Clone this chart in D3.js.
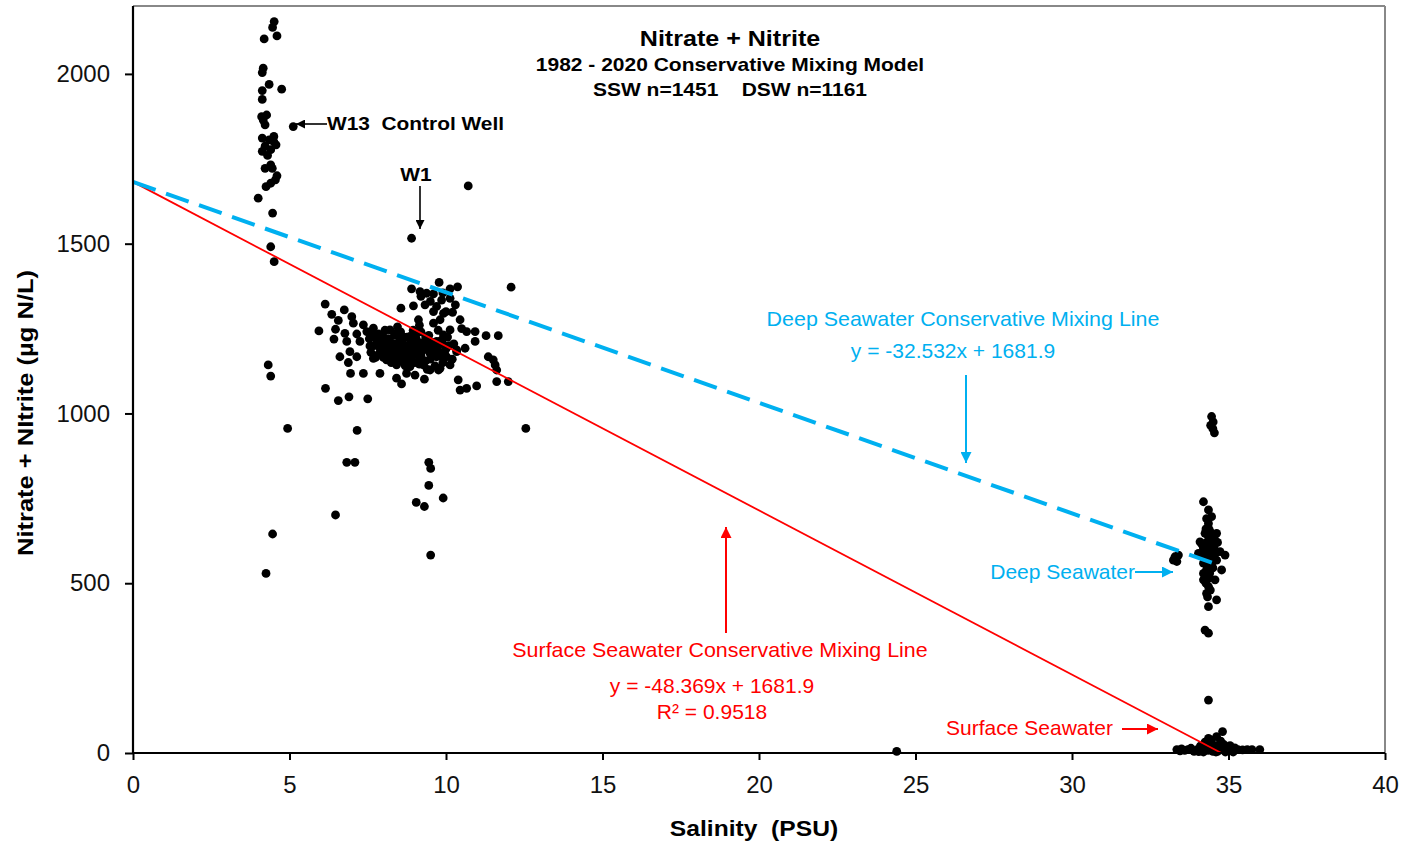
<!DOCTYPE html>
<html><head><meta charset="utf-8">
<script src="https://cdn.jsdelivr.net/npm/d3@7/dist/d3.min.js"></script>
<style>
body{margin:0;background:#fff;}
text{font-family:"Liberation Sans",Arial,sans-serif;}
</style></head>
<body><svg id="c" width="1416" height="846"></svg>
<script>
// ---------- DATA ----------
const xTicks = [0,5,10,15,20,25,30,35,40];
const yTicks = [0,500,1000,1500,2000];

// W13 control well samples [salinity, nitrate+nitrite]
const w13 = [[4.51,2154],[4.46,2137],[4.19,2103],[4.60,2112],[4.16,2017],[4.13,2004],[4.35,1969],[4.75,1955],
 [4.13,1951],[4.13,1925],[4.11,1874],[4.16,1864],[4.22,1850],[4.27,1879],[5.12,1845],[4.13,1811],[4.35,1806],
 [4.50,1816],[4.57,1791],[4.22,1787],[4.40,1777],[4.13,1772],[4.40,1732],[4.22,1722],[4.45,1722],[4.55,1688],
 [4.40,1678],[4.25,1668],[4.00,1634],[4.46,1590],[4.40,1491],[4.51,1447],[4.50,1800],[4.30,1760],[4.60,1700],
 [4.32,1143],[4.40,1110],[4.25,529],[4.46,645]];

// Other wells (W1 and neighbours)
const wells = [[8.90,1516],[10.71,1670],[4.94,956],[6.15,1074],[6.56,1038],[6.90,1049],[7.50,1043],[7.16,950],
 [6.83,856],[7.09,856],[6.47,701],[9.45,856],[9.51,838],[9.45,788],[9.05,738],[9.31,726],[9.91,751],[9.51,583],
 [12.55,956],[12.08,1372],[9.78,1386],
 [8.90,1367],[9.17,1359],[9.38,1354],[9.60,1352],[10.13,1367],[10.37,1373],[10.13,1339],[9.86,1334],[9.70,1315],
 [9.33,1320],[8.96,1317],[8.56,1310],[9.92,1295],[10.21,1298],[10.45,1276],[9.60,1266],[9.81,1276],[9.12,1276],
 [10.13,1246],[9.92,1231],[10.66,1241],[10.93,1241],[11.28,1229],[11.67,1229],[10.93,1212],[10.61,1192],
 [10.34,1187],[9.70,1212],[9.49,1192],
 [6.14,1322],[6.75,1305],[6.35,1292],[6.99,1285],[6.56,1274],[7.04,1266],[7.36,1261],[7.68,1251],[6.47,1248],
 [5.94,1243],[6.77,1236],[7.15,1234],[7.47,1241],[7.84,1234],[6.42,1219],[6.83,1212],[7.25,1212],[7.57,1199],
 [8.21,1246],[8.42,1236],[8.53,1217],[8.85,1227],[9.06,1236],[8.00,1207],[7.94,1187],[8.21,1177],[8.42,1167],
 [8.74,1182],[8.96,1197],[9.22,1207],[9.49,1177],[9.70,1167],[10.02,1167],[10.34,1182],[6.61,1167],[6.93,1182],
 [7.15,1167],[6.88,1150],[7.68,1162],[8.10,1158],[8.42,1143],[8.85,1138],[9.28,1143],[9.49,1128],[9.81,1133],
 [10.13,1143],[6.95,1118],[7.36,1118],[7.89,1118],[8.42,1104],[8.58,1087],[8.74,1118],[9.01,1113],[9.31,1101],
 [9.76,1128],[10.39,1099],[10.45,1069],[10.66,1074],[10.98,1081],[11.62,1094],[11.99,1094],[11.35,1167],
 [11.51,1158],[11.57,1143],[11.62,1128],
 [7.70,1200],[7.80,1215],[7.90,1190],[8.00,1225],[8.10,1200],[8.15,1185],[8.20,1215],[8.30,1195],[8.30,1170],
 [8.35,1230],[8.40,1205],[8.50,1190],[8.50,1160],[8.55,1240],[8.60,1210],[8.65,1175],[8.70,1200],[8.75,1225],
 [8.80,1185],[8.80,1160],[8.90,1210],[8.95,1245],[9.00,1175],[9.00,1150],[9.05,1220],[9.10,1195],[9.15,1165],
 [9.20,1240],[9.25,1185],[9.30,1210],[9.35,1155],[9.40,1200],[9.45,1230],[9.50,1160],[9.55,1210],[9.60,1185],
 [9.65,1140],[9.70,1195],[9.80,1170],[9.85,1215],[9.90,1150],[10.00,1190],[10.05,1225],[10.20,1160],[10.25,1205],
 [8.05,1245],[7.60,1180],[7.75,1165],[8.45,1255],[9.15,1260],[8.25,1150],[8.70,1140],[9.40,1130],
 [9.20,1345],[9.50,1330],[9.90,1355],[10.30,1320],[10.50,1250],[10.00,1300],[9.60,1300],
 [7.85,1175],[7.95,1205],[8.05,1180],[8.15,1220],[8.25,1190],[8.35,1160],[8.45,1185],[8.55,1200],[8.60,1170],
 [8.65,1225],[8.75,1190],[8.85,1205],[8.90,1170],[9.05,1185],[9.10,1210],[9.20,1170],[9.30,1190],[9.35,1225],
 [9.45,1195],[9.55,1175],[9.65,1200],[9.75,1185],[9.90,1205],[8.20,1195],[8.65,1150],[9.15,1145],[8.00,1165],
 [7.55,1220],[7.65,1230],[9.75,1245],[9.95,1180],[10.10,1200]];

// Deep seawater samples
const deep = [[34.46,991],[34.51,975],[34.55,943],[34.43,965],[34.50,955],
 [34.20,740],[34.36,716],[34.46,696],[34.36,676],[34.36,662],[34.62,647],[34.25,647],[34.09,622],[34.41,637],
 [34.57,617],[34.20,603],[34.46,598],[34.73,593],[34.89,583],[34.04,588],[34.30,578],[34.62,568],[34.20,559],
 [34.46,549],[34.78,539],[34.20,529],[34.36,514],[34.20,510],[34.57,510],[34.36,490],[34.30,470],[34.62,451],
 [34.36,431],[34.25,362],[34.36,353],[33.29,578],[33.24,568],[33.40,583],[33.35,564],
 [34.30,620],[34.40,600],[34.50,580],[34.35,570],[34.45,560],[34.30,540],[34.40,530],[34.50,545],[34.25,590],
 [34.55,630],[34.40,655],[34.30,690],[34.45,625],[34.35,605],[34.50,565],[34.60,590],[34.28,500],[34.42,480],
 [34.33,460],[34.38,520],[34.48,610],[34.52,640],[34.40,575],[34.30,555],[34.45,590],
 [34.15,615],[34.22,575],[34.55,600],[34.65,620],[34.35,640],[34.28,660],[34.42,545],[34.32,595],[34.52,585]];

// Surface seawater samples
const surface = [[24.4,5],[34.36,156],[34.81,63],[34.36,43],[34.62,48],
 [33.35,10],[33.50,12],[33.60,8],[33.70,10],[33.80,14],[34.00,10],[34.10,20],[34.20,15],[34.30,25],[34.35,8],
 [34.40,30],[34.50,18],[34.55,12],[34.60,22],[34.65,5],[34.70,15],[34.80,10],[34.85,25],[34.90,8],[34.95,18],
 [35.00,12],[35.10,6],[35.20,15],[35.30,10],[35.45,9],[35.60,10],[35.75,10],[36.00,10],[34.45,38],[34.25,32],
 [34.75,35],[34.50,5],[34.20,3],[34.90,3],[35.05,22],[33.45,6],[33.90,5],[34.05,4],[34.15,8],[34.60,3],[35.15,3]];

// Mixing-line models
const ssw = {slope:-48.369, intercept:1681.9};
const dsw = {slope:-32.532, intercept:1681.9};
const dswEndX = 34.8;

// ---------- CHART ----------
const W=1416,H=846, m={l:133,r:31,t:6,b:93};
const svg = d3.select("#c");
const x = d3.scaleLinear().domain([0,40]).range([m.l,W-m.r]);
const y = d3.scaleLinear().domain([0,2200]).range([H-m.b,m.t]);
const blue="#00B0F0", red="#FF0000";

// frame (top/right grey)
svg.append("line").attr("x1",x(0)).attr("x2",x(40)).attr("y1",y(2200)).attr("y2",y(2200)).attr("stroke","#888").attr("stroke-width",2);
svg.append("line").attr("x1",x(40)).attr("x2",x(40)).attr("y1",y(2200)).attr("y2",y(0)).attr("stroke","#888").attr("stroke-width",2);

// points
const pts = [].concat(w13,wells,deep,surface);
svg.append("g").selectAll("circle").data(pts).join("circle")
  .attr("cx",d=>x(d[0])).attr("cy",d=>y(d[1])).attr("r",4.4).attr("fill","#000");

// lines
const sswEndX = -ssw.intercept/ssw.slope;
svg.append("line").attr("x1",x(0)).attr("y1",y(ssw.intercept)).attr("x2",x(sswEndX)).attr("y2",y(0))
  .attr("stroke",red).attr("stroke-width",1.8);
svg.append("line").attr("x1",x(0)).attr("y1",y(dsw.intercept)).attr("x2",x(dswEndX)).attr("y2",y(dsw.slope*dswEndX+dsw.intercept))
  .attr("stroke",blue).attr("stroke-width",4).attr("stroke-dasharray","24,11");

// axes
const xa = svg.append("g").attr("transform",`translate(0,${y(0)})`)
  .call(d3.axisBottom(x).tickValues(xTicks).tickFormat(d3.format("d")).tickSize(7).tickPadding(16));
const ya = svg.append("g").attr("transform",`translate(${x(0)},0)`)
  .call(d3.axisLeft(y).tickValues(yTicks).tickFormat(d3.format("d")).tickSize(8).tickPadding(15));
[xa,ya].forEach(g=>{
  g.select(".domain").attr("stroke","#000").attr("stroke-width",2.2);
  g.selectAll(".tick line").attr("stroke","#000").attr("stroke-width",2);
  g.selectAll(".tick text").attr("font-size",24).attr("fill","#111").attr("font-family","Liberation Sans, Arial, sans-serif");
});
xa.select(".domain").attr("d",`M${x(0)},0H${x(40)}`);
ya.select(".domain").attr("d",`M0,${y(2200)}V${y(0)}`);

// text helper (sx = horizontal stretch)
function txt(xp,yp,s,col,size,anchor,bold,sx,rot){
  svg.append("text").attr("transform",`translate(${xp},${yp}) rotate(${rot||0}) scale(${sx||1},1)`)
   .attr("fill",col).attr("font-size",size).attr("text-anchor",anchor)
   .attr("font-weight",bold?"bold":"normal").attr("xml:space","preserve").text(s);
}

// axis titles
txt(754,836,"Salinity  (PSU)","#000",22,"middle",true,1.12);
txt(33,413,"Nitrate + NItrite (µg N/L)","#000",22,"middle",true,1.16,-90);

// titles
txt(730,46,"Nitrate + Nitrite","#000",22,"middle",true,1.14);
txt(730,71,"1982 - 2020 Conservative Mixing Model","#000",17.5,"middle",true,1.2);
txt(730,96,"SSW n=1451    DSW n=1161","#000",17.5,"middle",true,1.2);

// arrow markers
const defs = svg.append("defs");
function mk(id,col,w,h){
  defs.append("marker").attr("id",id).attr("viewBox","0 0 10 10").attr("refX",10).attr("refY",5)
   .attr("markerWidth",w).attr("markerHeight",h).attr("markerUnits","userSpaceOnUse").attr("orient","auto")
   .append("path").attr("d","M0,0L10,5L0,10Z").attr("fill",col);
}
mk("ab","#000",10,9); mk("abl",blue,12,11); mk("ar",red,12,11);
function arrow(x1,y1,x2,y2,col,mid,w){
  svg.append("line").attr("x1",x1).attr("y1",y1).attr("x2",x2).attr("y2",y2).attr("stroke",col).attr("stroke-width",w).attr("marker-end",`url(#${mid})`);
}
// W13
arrow(327,124,296,124,"#000","ab",1.6);
txt(327,130,"W13  Control Well","#000",18,"start",true,1.16);
// W1
txt(416,181,"W1","#000",18,"middle",true,1.16);
arrow(420,186,420,229,"#000","ab",1.6);
// Deep line
txt(963,326,"Deep Seawater Conservative Mixing Line",blue,21,"middle",false,1.02);
txt(953,358,"y = -32.532x + 1681.9",blue,21,"middle",false,1.0);
arrow(966,375,966,463,blue,"abl",2);
txt(1135,579,"Deep Seawater",blue,21,"end",false,1.0);
arrow(1135,572,1173,572,blue,"abl",2);
// Surface line
txt(720,657,"Surface Seawater Conservative Mixing Line",red,21,"middle",false,1.02);
txt(712,693,"y = -48.369x + 1681.9",red,21,"middle",false,1.0);
txt(712,719,"R² = 0.9518",red,21,"middle",false,1.0);
arrow(726,633,726,527,red,"ar",2);
txt(1113,735,"Surface Seawater",red,21,"end",false,1.0);
arrow(1122,729,1158,729,red,"ar",2);
</script></body></html>
